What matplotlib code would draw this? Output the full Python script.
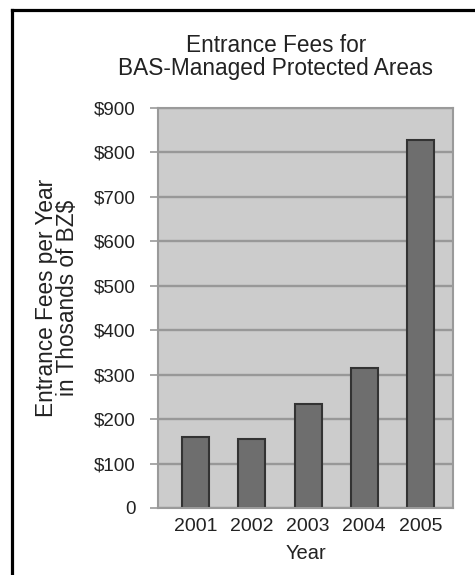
import matplotlib
matplotlib.use("Agg")
import matplotlib.pyplot as plt
from matplotlib.lines import Line2D

years = ["2001", "2002", "2003", "2004", "2005"]
fees = [160, 155, 234, 315, 828]
y_ticks = [0, 100, 200, 300, 400, 500, 600, 700, 800, 900]
y_tick_labels = ["0", "$100", "$200", "$300", "$400", "$500", "$600", "$700", "$800", "$900"]

plt.rcParams["font.family"] = ["Liberation Sans", "DejaVu Sans"]

fig = plt.figure(figsize=(4.75, 5.75), dpi=100)
fig.patch.set_facecolor("white")

# outer frame (cut off on the right and bottom)
fx = 12 / 475
fy = 1 - 10 / 575
fig.add_artist(Line2D([fx, fx], [0, fy], transform=fig.transFigure, color="black", lw=2.3))
fig.add_artist(Line2D([fx, 1], [fy, fy], transform=fig.transFigure, color="black", lw=2.3))

ax = fig.add_axes([158 / 475, 1 - 508 / 575, 295 / 475, 400 / 575])
ax.set_facecolor("#cccccc")
for s in ax.spines.values():
    s.set_color("#9a9a9a")
    s.set_linewidth(1.5)

ax.set_axisbelow(True)
ax.yaxis.grid(True, color="#989898", linewidth=1.7)

x = range(len(years))
ax.bar(x, fees, width=0.48, color="#6e6e6e", edgecolor="#333333", linewidth=1.5)

ax.set_xlim(-0.67, 4.58)
ax.set_ylim(0, 900)
ax.set_yticks(y_ticks)
ax.set_yticklabels(y_tick_labels, fontsize=13.5, color="#222222")
ax.set_xticks(list(x))
ax.set_xticklabels(years, fontsize=14, color="#222222")
ax.tick_params(axis="y", length=6, width=1.2, color="#9a9a9a", pad=10)
ax.tick_params(axis="x", length=0, pad=7)

ax.set_xlabel("Year", fontsize=14.5, color="#222222", labelpad=7)

fig.text(57 / 475, 1 - 298 / 575, "Entrance Fees per Year\nin Thosands of BZ$",
         rotation=90, ha="center", va="center", fontsize=16.3, color="#222222",
         linespacing=0.9)

fig.text(276 / 475, 1 - 57 / 575, "Entrance Fees for\nBAS-Managed Protected Areas",
         ha="center", va="center", fontsize=16.3, color="#222222", linespacing=1.05)

fig.savefig("out.png", dpi=100)
